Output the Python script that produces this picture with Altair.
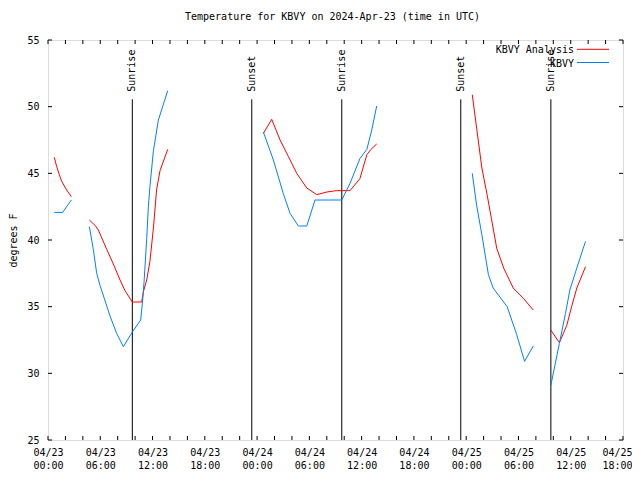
import altair as alt
import pandas as pd

TITLE = "Temperature for KBVY on 2024-Apr-23 (time in UTC)"
SERIES = ["KBVY Analysis", "KBVY"]
COLORS = ["#ff0000", "#0080ff"]

# hours since 2024-04-23 00:00 UTC, temperature (F), segment id
ANALYSIS_H = [0.72, 1.0, 1.3, 1.57, 2.14, 2.68,
              4.75, 5.4, 5.78, 6.74, 7.5, 8.27, 8.84, 9.68, 10.75, 10.94, 11.33, 11.7, 12.1, 12.47, 12.86, 13.74,
              24.72, 25.68, 26.64, 27.6, 28.55, 29.7, 30.85, 32.0, 33.1, 34.67, 35.8, 36.6, 37.08, 37.73,
              48.7, 49.2, 49.8, 50.4, 50.9, 51.5, 52.3, 53.4, 54.6, 55.7,
              57.7, 58.7, 59.55, 60.1, 60.7, 61.7]
ANALYSIS_T = [46.2, 45.5, 44.9, 44.4, 43.75, 43.25,
              41.5, 41.1, 40.75, 39.3, 38.2, 37.0, 36.2, 35.35, 35.35, 36.1, 37.0, 38.4, 40.9, 43.8, 45.2, 46.8,
              48.0, 49.05, 47.5, 46.25, 45.0, 43.9, 43.4, 43.6, 43.7, 43.7, 44.6, 46.4, 46.8, 47.2,
              50.9, 48.4, 45.4, 43.4, 41.6, 39.4, 37.9, 36.4, 35.6, 34.75,
              33.25, 32.3, 33.6, 35.0, 36.4, 38.0]
ANALYSIS_SEG = [1] * 6 + [2] * 16 + [3] * 14 + [4] * 10 + [5] * 6

OBS_H = [0.72, 1.68, 2.68,
         4.75, 5.2, 5.59, 5.97, 7.12, 7.88, 8.65, 9.68, 10.64, 10.87, 11.02, 11.33, 11.52, 11.7, 12.1, 12.67, 13.74,
         24.72, 25.87, 27.0, 27.78, 28.74, 29.7, 30.65, 33.72, 34.67, 35.8, 36.6, 37.16, 37.73,
         48.7, 49.2, 49.8, 50.55, 51.1, 52.7, 53.8, 54.7, 55.7,
         57.7, 58.7, 59.4, 59.9, 60.7, 61.7]
OBS_T = [42.07, 42.07, 43.0,
         41.0, 39.3, 37.5, 36.6, 34.3, 33.0, 32.0, 33.1, 34.0, 35.5, 36.8, 40.1, 42.5, 44.0, 46.7, 49.0, 51.2,
         48.1, 46.0, 43.5, 42.0, 41.05, 41.05, 43.0, 43.0, 44.25, 46.1, 46.8, 48.25, 50.05,
         45.0, 42.6, 40.4, 37.4, 36.4, 35.0, 32.9, 30.9, 32.05,
         29.05, 32.25, 34.5, 36.25, 37.9, 39.9]
OBS_SEG = [1] * 3 + [2] * 17 + [3] * 13 + [4] * 9 + [5] * 6

EVENT_H = [9.68, 23.39, 33.72, 47.38, 57.72]
EVENT_LABEL = ["Sunrise", "Sunset", "Sunrise", "Sunset", "Sunrise"]

X_TICKS = list(range(0, 67, 2))
X_LABELS = list(range(0, 67, 6))
Y_TICKS = [25, 30, 35, 40, 45, 50, 55]

FONT = "DejaVu Sans Mono"

lines_df = pd.concat([
    pd.DataFrame({"h": ANALYSIS_H, "t": ANALYSIS_T, "seg": ANALYSIS_SEG, "series": SERIES[0]}),
    pd.DataFrame({"h": OBS_H, "t": OBS_T, "seg": OBS_SEG, "series": SERIES[1]}),
], ignore_index=True)
events_df = pd.DataFrame({"h": EVENT_H, "label": EVENT_LABEL})
xt_df = pd.DataFrame({"h": X_TICKS})
yt_df = pd.DataFrame({"t": Y_TICKS})

xscale = alt.Scale(domain=[0, 66], nice=False, zero=False)
yscale = alt.Scale(domain=[25, 55], nice=False, zero=False)

x_axis = alt.Axis(
    values=X_LABELS, ticks=False, domain=False, grid=False, title=None,
    labelExpr="['04/' + (23 + floor(datum.value/24)), (datum.value % 24 < 10 ? '0' : '') + (datum.value % 24) + ':00']",
    labelFont=FONT, labelFontSize=10, labelColor="black", labelPadding=7,
    labelLineHeight=13, labelOverlap=False, labelFlush=False, labelBaseline="top",
    labelAlign={"condition": {"test": "datum.value >= 66", "value": "right"}, "value": "center"},
    labelOffset={"condition": {"test": "datum.value >= 66", "value": 9}, "value": 0},
)
y_axis = alt.Axis(
    values=Y_TICKS, ticks=False, domain=False, grid=False, title="degrees F",
    labelFont=FONT, labelFontSize=10, labelColor="black", labelPadding=9,
    titleFont=FONT, titleFontSize=10, titleFontWeight="normal", titleColor="black",
    titleX=-35, titleY=200, titleAngle=270, titleAlign="center", titleBaseline="middle",
)

X = alt.X("h:Q", scale=xscale, axis=x_axis)
Y = alt.Y("t:Q", scale=yscale, axis=y_axis)

lines = alt.Chart(lines_df).mark_line(strokeWidth=1, clip=True).encode(
    x=X, y=Y,
    color=alt.Color("series:N", scale=alt.Scale(domain=SERIES, range=COLORS), legend=None),
    detail="seg:N",
)

event_rules = alt.Chart(events_df).mark_rule(color="black", strokeWidth=1).encode(
    x=X, y=alt.datum(25), y2=alt.datum(50.55),
)
event_text = alt.Chart(events_df).mark_text(
    angle=270, align="left", baseline="middle", font=FONT, fontSize=10, color="black",
).encode(x=X, y=alt.datum(51.12), text="label:N")

tick_b = alt.Chart(xt_df).mark_rule(color="black").encode(x=X, y=alt.datum(25), y2=alt.datum(25.3))
tick_t = alt.Chart(xt_df).mark_rule(color="black").encode(x=X, y=alt.datum(55), y2=alt.datum(54.7))
tick_l = alt.Chart(yt_df).mark_rule(color="black").encode(y=Y, x=alt.datum(0), x2=alt.datum(0.46))
tick_r = alt.Chart(yt_df).mark_rule(color="black").encode(y=Y, x=alt.datum(66), x2=alt.datum(65.54))

leg_df = pd.DataFrame({"series": SERIES})
legend_text_a = alt.Chart(leg_df.iloc[[0]]).mark_text(
    align="right", baseline="middle", font=FONT, fontSize=10, color="black",
).encode(x=alt.value(526), y=alt.value(9.5), text="series:N")
legend_text_b = alt.Chart(leg_df.iloc[[1]]).mark_text(
    align="right", baseline="middle", font=FONT, fontSize=10, color="black",
).encode(x=alt.value(526), y=alt.value(23.5), text="series:N")
legend_line_a = alt.Chart(leg_df.iloc[[0]]).mark_rule(color=COLORS[0], strokeWidth=1).encode(
    x=alt.value(529), x2=alt.value(561), y=alt.value(9.3))
legend_line_b = alt.Chart(leg_df.iloc[[1]]).mark_rule(color=COLORS[1], strokeWidth=1).encode(
    x=alt.value(529), x2=alt.value(561), y=alt.value(22.5))

chart = alt.layer(
    event_rules, event_text, lines, tick_b, tick_t, tick_l, tick_r,
    legend_text_a, legend_text_b, legend_line_a, legend_line_b,
).properties(
    width=575, height=400,
    title=alt.Title(TITLE, font=FONT, fontSize=10, fontWeight="normal", color="black",
                    anchor="middle", offset=13, dx=-3),
    autosize=alt.AutoSizeParams(type="none"),
    padding={"left": 40, "top": 32, "right": 9, "bottom": 32},
).configure_view(stroke="black", strokeWidth=1).configure(background="white")

chart.save("out.html", embed_options={"renderer": "svg", "actions": False})
